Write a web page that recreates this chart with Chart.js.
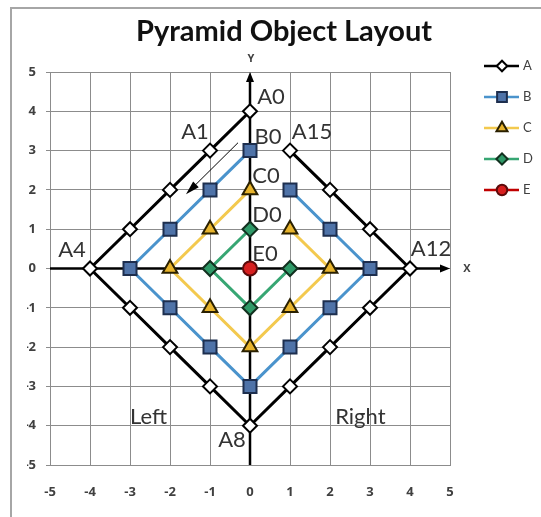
<!DOCTYPE html>
<html lang="en">
<head>
<meta charset="UTF-8">
<title>Pyramid Object Layout</title>
<script src="https://cdn.jsdelivr.net/npm/chart.js"></script>
<style>
  html, body { margin: 0; padding: 0; background: #fff; }
  #wrap { width: 541px; height: 517px; }
</style>
</head>
<body>
<div id="wrap"><canvas id="chart" width="541" height="517"></canvas></div>
<script>
// rings of the pyramid, each walked counter-clockwise from its top point
const aX = [0, -1, -2, -3, -4, -3, -2, -1, 0, 1, 2, 3, 4, 3, 2, 1];
const aY = [4, 3, 2, 1, 0, -1, -2, -3, -4, -3, -2, -1, 0, 1, 2, 3];
const bX = [0, -1, -2, -3, -2, -1, 0, 1, 2, 3, 2, 1];
const bY = [3, 2, 1, 0, -1, -2, -3, -2, -1, 0, 1, 2];
const cX = [0, -1, -2, -1, 0, 1, 2, 1];
const cY = [2, 1, 0, -1, -2, -1, 0, 1];
const dX = [0, -1, 0, 1];
const dY = [1, 0, -1, 0];
const eX = [0];
const eY = [0];
const seriesNames = ['A', 'B', 'C', 'D', 'E'];
const axisMin = -5;
const axisMax = 5;
const chartTitle = 'Pyramid Object Layout';

// named points: [series, point index, text]
const pointNames = [
  ['A', 0, 'A0'], ['A', 1, 'A1'], ['A', 4, 'A4'], ['A', 8, 'A8'], ['A', 12, 'A12'], ['A', 15, 'A15'],
  ['B', 0, 'B0'], ['C', 0, 'C0'], ['D', 0, 'D0'], ['E', 0, 'E0']
];
const sideNames = ['Left', 'Right'];

const toPoints = (xs, ys) => xs.map((x, i) => ({ x: x, y: ys[i] }));

const FONT = 'Lato, "Open Sans", sans-serif';
const TICK_FONT = '"Open Sans", Lato, sans-serif';
const TEXT = '#404040';
const GRID = '#8c8c8c';

// label offsets in pixels from the marker, keyed by text
const nameOffset = {
  A0: [21, -14], A1: [-15, -19], A4: [-18, -19], A8: [-18, 14], A12: [21, -20], A15: [22, -19],
  B0: [18, -14], C0: [16, -14], D0: [17, -14], E0: [15, -15]
};
// where the side words sit (left edge / baseline, in axis units)
const sidePos = { Left: [-3, -3.96], Right: [2.13, -3.96] };

const ds = (label, xs, ys, line, fill, border, style, radius) => ({
  label: label,
  data: toPoints(xs, ys),
  showLine: true,
  borderColor: line,
  borderWidth: 3,
  pointStyle: style,
  pointRadius: radius,
  pointBackgroundColor: fill,
  pointBorderColor: border,
  pointBorderWidth: 2,
  fill: false
});

function drawArrow(ctx, x1, y1, x2, y2, width, head, half) {
  const ang = Math.atan2(y2 - y1, x2 - x1);
  ctx.beginPath();
  ctx.moveTo(x1, y1);
  ctx.lineTo(x2 - Math.cos(ang) * head * 0.6, y2 - Math.sin(ang) * head * 0.6);
  ctx.lineWidth = width;
  ctx.stroke();
  ctx.beginPath();
  ctx.moveTo(x2, y2);
  ctx.lineTo(x2 - Math.cos(ang) * head + Math.sin(ang) * half, y2 - Math.sin(ang) * head - Math.cos(ang) * half);
  ctx.lineTo(x2 - Math.cos(ang) * head - Math.sin(ang) * half, y2 - Math.sin(ang) * head + Math.cos(ang) * half);
  ctx.closePath();
  ctx.fill();
}

const overlay = {
  id: 'overlay',
  beforeDraw(chart) {
    const ctx = chart.ctx;
    ctx.save();
    ctx.fillStyle = '#fff';
    ctx.fillRect(0, 0, chart.width, chart.height);
    ctx.strokeStyle = '#a6a6a6';
    ctx.lineWidth = 2;
    ctx.strokeRect(11, 8, chart.width + 20, chart.height + 20);
    // title sits over the middle of the whole frame, not the plot
    ctx.fillStyle = '#111';
    ctx.font = 'bold 29px ' + FONT;
    ctx.textAlign = 'center';
    ctx.textBaseline = 'alphabetic';
    ctx.fillText(chartTitle, 284, 41);
    ctx.restore();
  },
  beforeDatasetsDraw(chart) {
    // X and Y axes through the origin
    const ctx = chart.ctx, xs = chart.scales.x, ys = chart.scales.y;
    const x0 = xs.getPixelForValue(0), y0 = ys.getPixelForValue(0);
    ctx.save();
    ctx.strokeStyle = '#000';
    ctx.fillStyle = '#000';
    drawArrow(ctx, x0, ys.getPixelForValue(axisMin), x0, ys.getPixelForValue(axisMax), 2.5, 10, 4);
    drawArrow(ctx, xs.getPixelForValue(axisMin), y0, xs.getPixelForValue(axisMax), y0, 2.5, 10, 4);
    ctx.font = 'bold 11px ' + TICK_FONT;
    ctx.fillStyle = TEXT;
    ctx.textAlign = 'center';
    ctx.textBaseline = 'middle';
    ctx.fillText('Y', x0 + 1, ys.getPixelForValue(axisMax) - 13);
    ctx.fillText('X', xs.getPixelForValue(axisMax) + 17, y0);
    ctx.restore();
  },
  afterDatasetsDraw(chart) {
    const ctx = chart.ctx, xs = chart.scales.x, ys = chart.scales.y;
    ctx.save();
    ctx.fillStyle = '#333';
    ctx.font = '22px ' + FONT;
    ctx.textAlign = 'center';
    ctx.textBaseline = 'middle';
    pointNames.forEach(([series, idx, text]) => {
      const el = chart.getDatasetMeta(seriesNames.indexOf(series)).data[idx];
      const off = nameOffset[text];
      ctx.fillText(text, el.x + off[0], el.y + off[1]);
    });
    ctx.textAlign = 'left';
    ctx.textBaseline = 'alphabetic';
    sideNames.forEach(name => {
      const p = sidePos[name];
      ctx.fillText(name, xs.getPixelForValue(p[0]), ys.getPixelForValue(p[1]));
    });

    // pointer arrow alongside the A1 edge
    ctx.strokeStyle = '#000';
    ctx.fillStyle = '#000';
    drawArrow(ctx, xs.getPixelForValue(-0.3), ys.getPixelForValue(3.2),
      xs.getPixelForValue(-1.6), ys.getPixelForValue(1.89), 1, 14, 4);

    // legend: line with marker, name on the right
    ctx.font = '13px ' + FONT;
    ctx.textBaseline = 'middle';
    chart.data.datasets.forEach((d, i) => {
      const y = 66 + i * 31;
      ctx.strokeStyle = d.borderColor;
      ctx.lineWidth = 2.5;
      ctx.beginPath();
      ctx.moveTo(484, y);
      ctx.lineTo(519, y);
      ctx.stroke();
      ctx.fillStyle = d.pointBackgroundColor;
      ctx.strokeStyle = d.pointBorderColor;
      ctx.lineWidth = 2;
      Chart.helpers.drawPoint(ctx, { pointStyle: d.pointStyle, radius: d.pointRadius * 0.75, rotation: 0, borderWidth: 2 }, 502, y);
      ctx.fillStyle = TEXT;
      ctx.fillText(d.label, 523, y);
    });
    ctx.restore();
  }
};

new Chart(document.getElementById('chart'), {
  type: 'scatter',
  data: {
    datasets: [
      ds(seriesNames[0], aX, aY, '#000000', '#ffffff', '#000000', 'rectRot', 7),
      ds(seriesNames[1], bX, bY, '#4a93cc', '#4f73a8', '#1d2e4e', 'rect', 9.2),
      ds(seriesNames[2], cX, cY, '#f3c94e', '#e8b42c', '#2a2000', 'triangle', 8.5),
      ds(seriesNames[3], dX, dY, '#37a673', '#2f9a68', '#12301f', 'rectRot', 7.5),
      ds(seriesNames[4], eX, eY, '#c00000', '#d71f1f', '#5c0a0a', 'circle', 7)
    ]
  },
  options: {
    responsive: false,
    animation: false,
    layout: { padding: { left: 27, right: 91, top: 72, bottom: 0 } },
    plugins: {
      legend: { display: false },
      tooltip: { enabled: false },
      title: { display: false }
    },
    scales: {
      x: {
        type: 'linear',
        min: axisMin,
        max: axisMax,
        ticks: { stepSize: 1, padding: 19, color: TEXT, font: { family: TICK_FONT, size: 13, weight: 'bold' } },
        grid: { color: GRID, drawTicks: false },
        border: { color: GRID },
        afterFit: s => { s.height = 52; }
      },
      y: {
        type: 'linear',
        min: axisMin,
        max: axisMax,
        ticks: { stepSize: 1, padding: 10, color: TEXT, font: { family: TICK_FONT, size: 13, weight: 'bold' } },
        grid: { color: GRID, tickLength: 4 },
        border: { color: GRID },
        afterFit: s => { s.width = 23; }
      }
    }
  },
  plugins: [overlay]
});
</script>
</body>
</html>
